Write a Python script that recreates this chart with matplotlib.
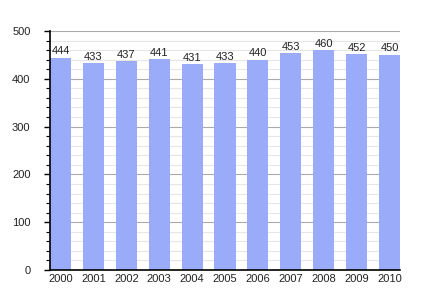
import matplotlib
matplotlib.use("Agg")
import matplotlib.pyplot as plt
from matplotlib.ticker import MultipleLocator

plt.rcParams["font.family"] = ["Liberation Sans", "DejaVu Sans"]

years = ["2000", "2001", "2002", "2003", "2004", "2005", "2006", "2007", "2008", "2009", "2010"]
values = [444, 433, 437, 441, 431, 433, 440, 453, 460, 452, 450]

fig = plt.figure(figsize=(4.3, 3.0), dpi=100)
ax = fig.add_axes([50/430, 1 - 270/300, 350/430, 239/300])

x = list(range(len(years)))
ax.bar(x, values, width=0.64, color="#9aabf9", zorder=2)
for xi, v in zip(x, values):
    ax.text(xi, v + 3, str(v), ha="center", va="bottom", fontsize=8, color="#222222", zorder=3)

ax.set_xlim(-0.32, len(years) - 1 + 0.32)
ax.set_ylim(0, 500)
ax.set_xticks(x)
ax.set_xticklabels(years)
ax.yaxis.set_major_locator(MultipleLocator(100))
ax.yaxis.set_minor_locator(MultipleLocator(20))
ax.grid(axis="y", which="major", color="#aaaaaa", linewidth=0.8, zorder=0)
ax.grid(axis="y", which="minor", color="#e6e6e6", linewidth=0.8, zorder=0)
ax.set_axisbelow(True)

for s in ["top", "right"]:
    ax.spines[s].set_visible(False)
ax.spines["left"].set_linewidth(1.2)
ax.spines["bottom"].set_linewidth(1.2)
ax.tick_params(axis="x", length=0, labelsize=8, pad=3, labelcolor="#222222")
ax.tick_params(axis="y", which="major", length=4, width=1, labelsize=8, pad=10, labelcolor="#222222")
ax.tick_params(axis="y", which="minor", length=3, width=0.8)

fig.savefig("out.png", dpi=100)
